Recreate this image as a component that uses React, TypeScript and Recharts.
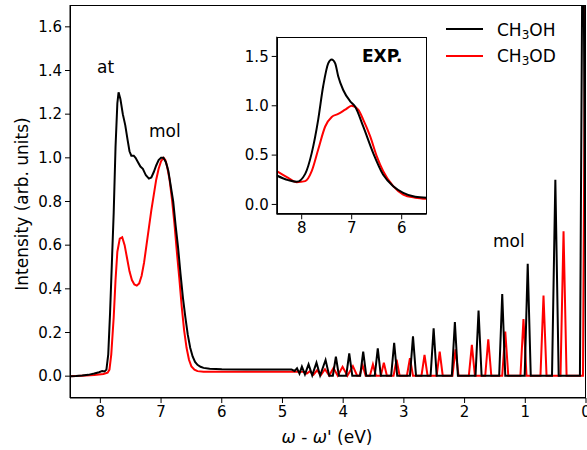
import { LineChart, Line, XAxis, YAxis } from "recharts"

type Pt = [number, number]

// main panel, CH3OH (black): broad band + vibrational progression
const ohBand: Pt[] = [
  [8.5, 0], [8.4, 0.001], [8.3, 0.003], [8.2, 0.006], [8.1, 0.012], [8.02, 0.018],
  [7.97, 0.024], [7.93, 0.022], [7.9, 0.03], [7.87, 0.1], [7.84, 0.29], [7.81, 0.52],
  [7.78, 0.75], [7.75, 1.05], [7.72, 1.25], [7.7, 1.3], [7.67, 1.27], [7.63, 1.2],
  [7.59, 1.15], [7.55, 1.08], [7.52, 1.03], [7.49, 1.01], [7.45, 1.01], [7.42, 1.0],
  [7.38, 0.98], [7.34, 0.96], [7.3, 0.95], [7.25, 0.92], [7.2, 0.905], [7.16, 0.91],
  [7.12, 0.935], [7.08, 0.965], [7.04, 0.99], [7.0, 1.0], [6.96, 1.0], [6.92, 0.98],
  [6.88, 0.94], [6.84, 0.87], [6.8, 0.8], [6.76, 0.69], [6.72, 0.59], [6.68, 0.47],
  [6.64, 0.36], [6.6, 0.27], [6.56, 0.19], [6.52, 0.13], [6.48, 0.09], [6.44, 0.065],
  [6.4, 0.052], [6.35, 0.043], [6.3, 0.038], [6.2, 0.034], [6.0, 0.032], [5.6, 0.031],
  [5.2, 0.03], [4.85, 0.03],
]
const ohPeaks: Pt[] = [
  [4.8, 0.024], [4.76, 0.036], [4.72, 0.012], [4.68, 0.044], [4.63, 0.008], [4.57, 0.054],
  [4.51, 0.004], [4.44, 0.062], [4.38, 0.003], [4.29, 0.074], [4.23, 0.002], [4.17, 0.002],
  [4.12, 0.089], [4.07, 0.002], [3.95, 0.002], [3.9, 0.104], [3.85, 0.002], [3.72, 0.002],
  [3.67, 0.112], [3.62, 0.002], [3.48, 0.002], [3.43, 0.127], [3.38, 0.002], [3.21, 0.002],
  [3.16, 0.153], [3.11, 0.002], [2.9, 0.002], [2.85, 0.182], [2.8, 0.002], [2.56, 0.002],
  [2.51, 0.219], [2.46, 0.002], [2.21, 0.002], [2.16, 0.248], [2.11, 0.002], [1.82, 0.002],
  [1.77, 0.3], [1.72, 0.002], [1.43, 0.002], [1.38, 0.376], [1.33, 0.002], [1.01, 0.002],
  [0.96, 0.515], [0.91, 0.002], [0.56, 0.002], [0.505, 0.9], [0.45, 0.002], [0.1, 0.002],
  [0.05, 2.4], [0.0, 0.002],
]

// main panel, CH3OD (red)
const odBand: Pt[] = [
  [8.5, 0], [8.3, 0.002], [8.1, 0.005], [7.95, 0.01], [7.88, 0.016], [7.85, 0.03],
  [7.82, 0.1], [7.78, 0.27], [7.75, 0.44], [7.72, 0.57], [7.68, 0.63], [7.64, 0.636],
  [7.6, 0.6], [7.56, 0.54], [7.52, 0.48], [7.48, 0.44], [7.44, 0.42], [7.4, 0.415],
  [7.36, 0.425], [7.32, 0.46], [7.28, 0.52], [7.24, 0.6], [7.2, 0.68], [7.16, 0.76],
  [7.12, 0.83], [7.08, 0.9], [7.04, 0.95], [7.0, 0.985], [6.96, 1.0], [6.93, 0.99],
  [6.9, 0.96], [6.86, 0.9], [6.82, 0.81], [6.78, 0.7], [6.74, 0.57], [6.7, 0.45],
  [6.66, 0.32], [6.62, 0.21], [6.58, 0.13], [6.54, 0.075], [6.5, 0.045], [6.45, 0.03],
  [6.4, 0.023], [6.3, 0.02], [6.0, 0.02], [5.5, 0.02], [5.0, 0.02], [4.7, 0.02],
]
const odPeaks: Pt[] = [
  [4.65, 0.02], [4.6, 0.012], [4.55, 0.022], [4.49, 0.006], [4.43, 0.027], [4.37, 0.004],
  [4.3, 0.032], [4.23, 0.003], [4.16, 0.037], [4.09, 0.002], [4.01, 0.043], [3.93, 0.002],
  [3.84, 0.046], [3.77, 0.002], [3.73, 0.002], [3.68, 0.05], [3.63, 0.002], [3.56, 0.002],
  [3.51, 0.054], [3.46, 0.002], [3.38, 0.002], [3.33, 0.061], [3.28, 0.002], [3.17, 0.002],
  [3.12, 0.075], [3.07, 0.002], [2.95, 0.002], [2.9, 0.082], [2.85, 0.002], [2.71, 0.002],
  [2.66, 0.097], [2.61, 0.002], [2.46, 0.002], [2.41, 0.112], [2.36, 0.002], [2.2, 0.002],
  [2.15, 0.123], [2.1, 0.002], [1.93, 0.002], [1.88, 0.143], [1.83, 0.002], [1.66, 0.002],
  [1.61, 0.169], [1.56, 0.002], [1.38, 0.002], [1.33, 0.204], [1.28, 0.002], [1.08, 0.002],
  [1.03, 0.262], [0.98, 0.002], [0.75, 0.002], [0.7, 0.369], [0.65, 0.002], [0.42, 0.002],
  [0.37, 0.664], [0.32, 0.002], [0.05, 0.002], [0.0, 2.4],
]

// inset: experiment
const expOH: Pt[] = [
  [8.5, 0.293], [8.27, 0.246], [8.1, 0.229], [7.93, 0.31], [7.8, 0.52], [7.67, 0.86],
  [7.57, 1.2], [7.47, 1.43], [7.4, 1.47], [7.33, 1.43], [7.27, 1.3], [7.17, 1.16],
  [7.03, 1.045], [6.93, 0.99], [6.77, 0.79], [6.57, 0.52], [6.37, 0.3], [6.17, 0.185],
  [5.97, 0.118], [5.73, 0.078], [5.5, 0.068],
]
const expOD: Pt[] = [
  [8.5, 0.337], [8.27, 0.27], [8.1, 0.225], [7.93, 0.236], [7.8, 0.337], [7.67, 0.556],
  [7.53, 0.79], [7.4, 0.887], [7.27, 0.917], [7.13, 0.96], [7.0, 1.0], [6.87, 0.96],
  [6.77, 0.86], [6.63, 0.69], [6.5, 0.49], [6.37, 0.337], [6.17, 0.185], [5.97, 0.1],
  [5.73, 0.068], [5.5, 0.057],
]

const mainXTicks = [0, 1, 2, 3, 4, 5, 6, 7, 8]
const mainYTicks = [0, 0.2, 0.4, 0.6, 0.8, 1.0, 1.2, 1.4, 1.6]
const insetXTicks = [6, 7, 8]
const insetYTicks = [0, 0.5, 1.0, 1.5]

const rows = (pts: Pt[]) => pts.map(([x, y]) => ({ x, y }))

const FONT = "DejaVu Sans"
const tickStyle = { fontSize: 15, fill: "#000", fontFamily: FONT }

export default function App() {
  const ohMain = rows([...ohBand, ...ohPeaks])
  const odMain = rows([...odBand, ...odPeaks])

  return (
    <div style={{ position: "absolute", left: 0, top: 0, width: 587, height: 450, background: "#fff", overflow: "hidden" }}>
      <LineChart width={587} height={450} margin={{ top: 5, right: 1, bottom: 0, left: 0 }}>
        <XAxis
          type="number"
          dataKey="x"
          domain={[0, 8.5]}
          reversed
          allowDataOverflow
          ticks={mainXTicks}
          interval={0}
          height={52}
          tickSize={5}
          tickMargin={3}
          tick={tickStyle}
          stroke="#000"
        />
        <YAxis
          type="number"
          domain={[-0.1, 1.7]}
          allowDataOverflow
          ticks={mainYTicks}
          interval={0}
          tickFormatter={(v: number) => v.toFixed(1)}
          width={70}
          tickSize={5}
          tickMargin={3}
          tick={tickStyle}
          stroke="#000"
        />
        <Line data={odMain} dataKey="y" type="linear" stroke="#ff0000" strokeWidth={2} dot={false} isAnimationActive={false} />
        <Line data={ohMain} dataKey="y" type="linear" stroke="#000000" strokeWidth={2} dot={false} isAnimationActive={false} />
      </LineChart>
      {/* main frame */}
      <div style={{ position: "absolute", left: 70, top: 5, width: 516, height: 393, border: "1px solid #000", boxSizing: "border-box", pointerEvents: "none" }} />

      {/* inset */}
      <div style={{ position: "absolute", left: 277, top: 37, width: 150, height: 177, background: "#fff" }} />
      <div style={{ position: "absolute", left: 236, top: 32 }}>
        <LineChart width={192} height={208} margin={{ top: 4.7, right: 1.3, bottom: 0, left: 0 }}>
          <XAxis
            type="number"
            dataKey="x"
            domain={[5.5, 8.5]}
            reversed
            allowDataOverflow
            ticks={insetXTicks}
            interval={0}
            height={25.7}
            tickSize={5}
            tickMargin={3}
            tick={tickStyle}
            stroke="#000"
          />
          <YAxis
            type="number"
            domain={[-0.1, 1.7]}
            allowDataOverflow
            ticks={insetYTicks}
            interval={0}
            tickFormatter={(v: number) => v.toFixed(1)}
            width={40.7}
            tickSize={5}
            tickMargin={3}
            tick={tickStyle}
            stroke="#000"
          />
          <Line data={rows(expOD)} dataKey="y" type="monotone" stroke="#ff0000" strokeWidth={2} dot={false} isAnimationActive={false} />
          <Line data={rows(expOH)} dataKey="y" type="monotone" stroke="#000000" strokeWidth={2} dot={false} isAnimationActive={false} />
        </LineChart>
      </div>
      <div style={{ position: "absolute", left: 276.7, top: 36.7, width: 150, height: 177.6, border: "1px solid #000", boxSizing: "border-box", pointerEvents: "none" }} />

      {/* texts */}
      <svg width={587} height={450} style={{ position: "absolute", left: 0, top: 0, pointerEvents: "none" }} fontFamily={FONT}>
        <text x={28} y={204} fontSize={17} textAnchor="middle" transform="rotate(-90 28 204)">
          Intensity (arb. units)
        </text>
        <text x={327} y={443} fontSize={17} textAnchor="middle">
          <tspan fontStyle="italic">ω</tspan> - <tspan fontStyle="italic">ω</tspan>' (eV)
        </text>
        <text x={97} y={73} fontSize={17}>at</text>
        <text x={149} y={137} fontSize={17}>mol</text>
        <text x={493} y={247} fontSize={17}>mol</text>
        <text x={362} y={62} fontSize={17} fontWeight="bold">EXP.</text>

        <line x1={446} y1={29} x2={483} y2={29} stroke="#000" strokeWidth={2} />
        <text x={497} y={36} fontSize={17}>
          CH<tspan fontSize={12} dy={3}>3</tspan><tspan dy={-3}>OH</tspan>
        </text>
        <line x1={446} y1={56} x2={483} y2={56} stroke="#ff0000" strokeWidth={2} />
        <text x={497} y={62} fontSize={17}>
          CH<tspan fontSize={12} dy={3}>3</tspan><tspan dy={-3}>OD</tspan>
        </text>
      </svg>
    </div>
  )
}
